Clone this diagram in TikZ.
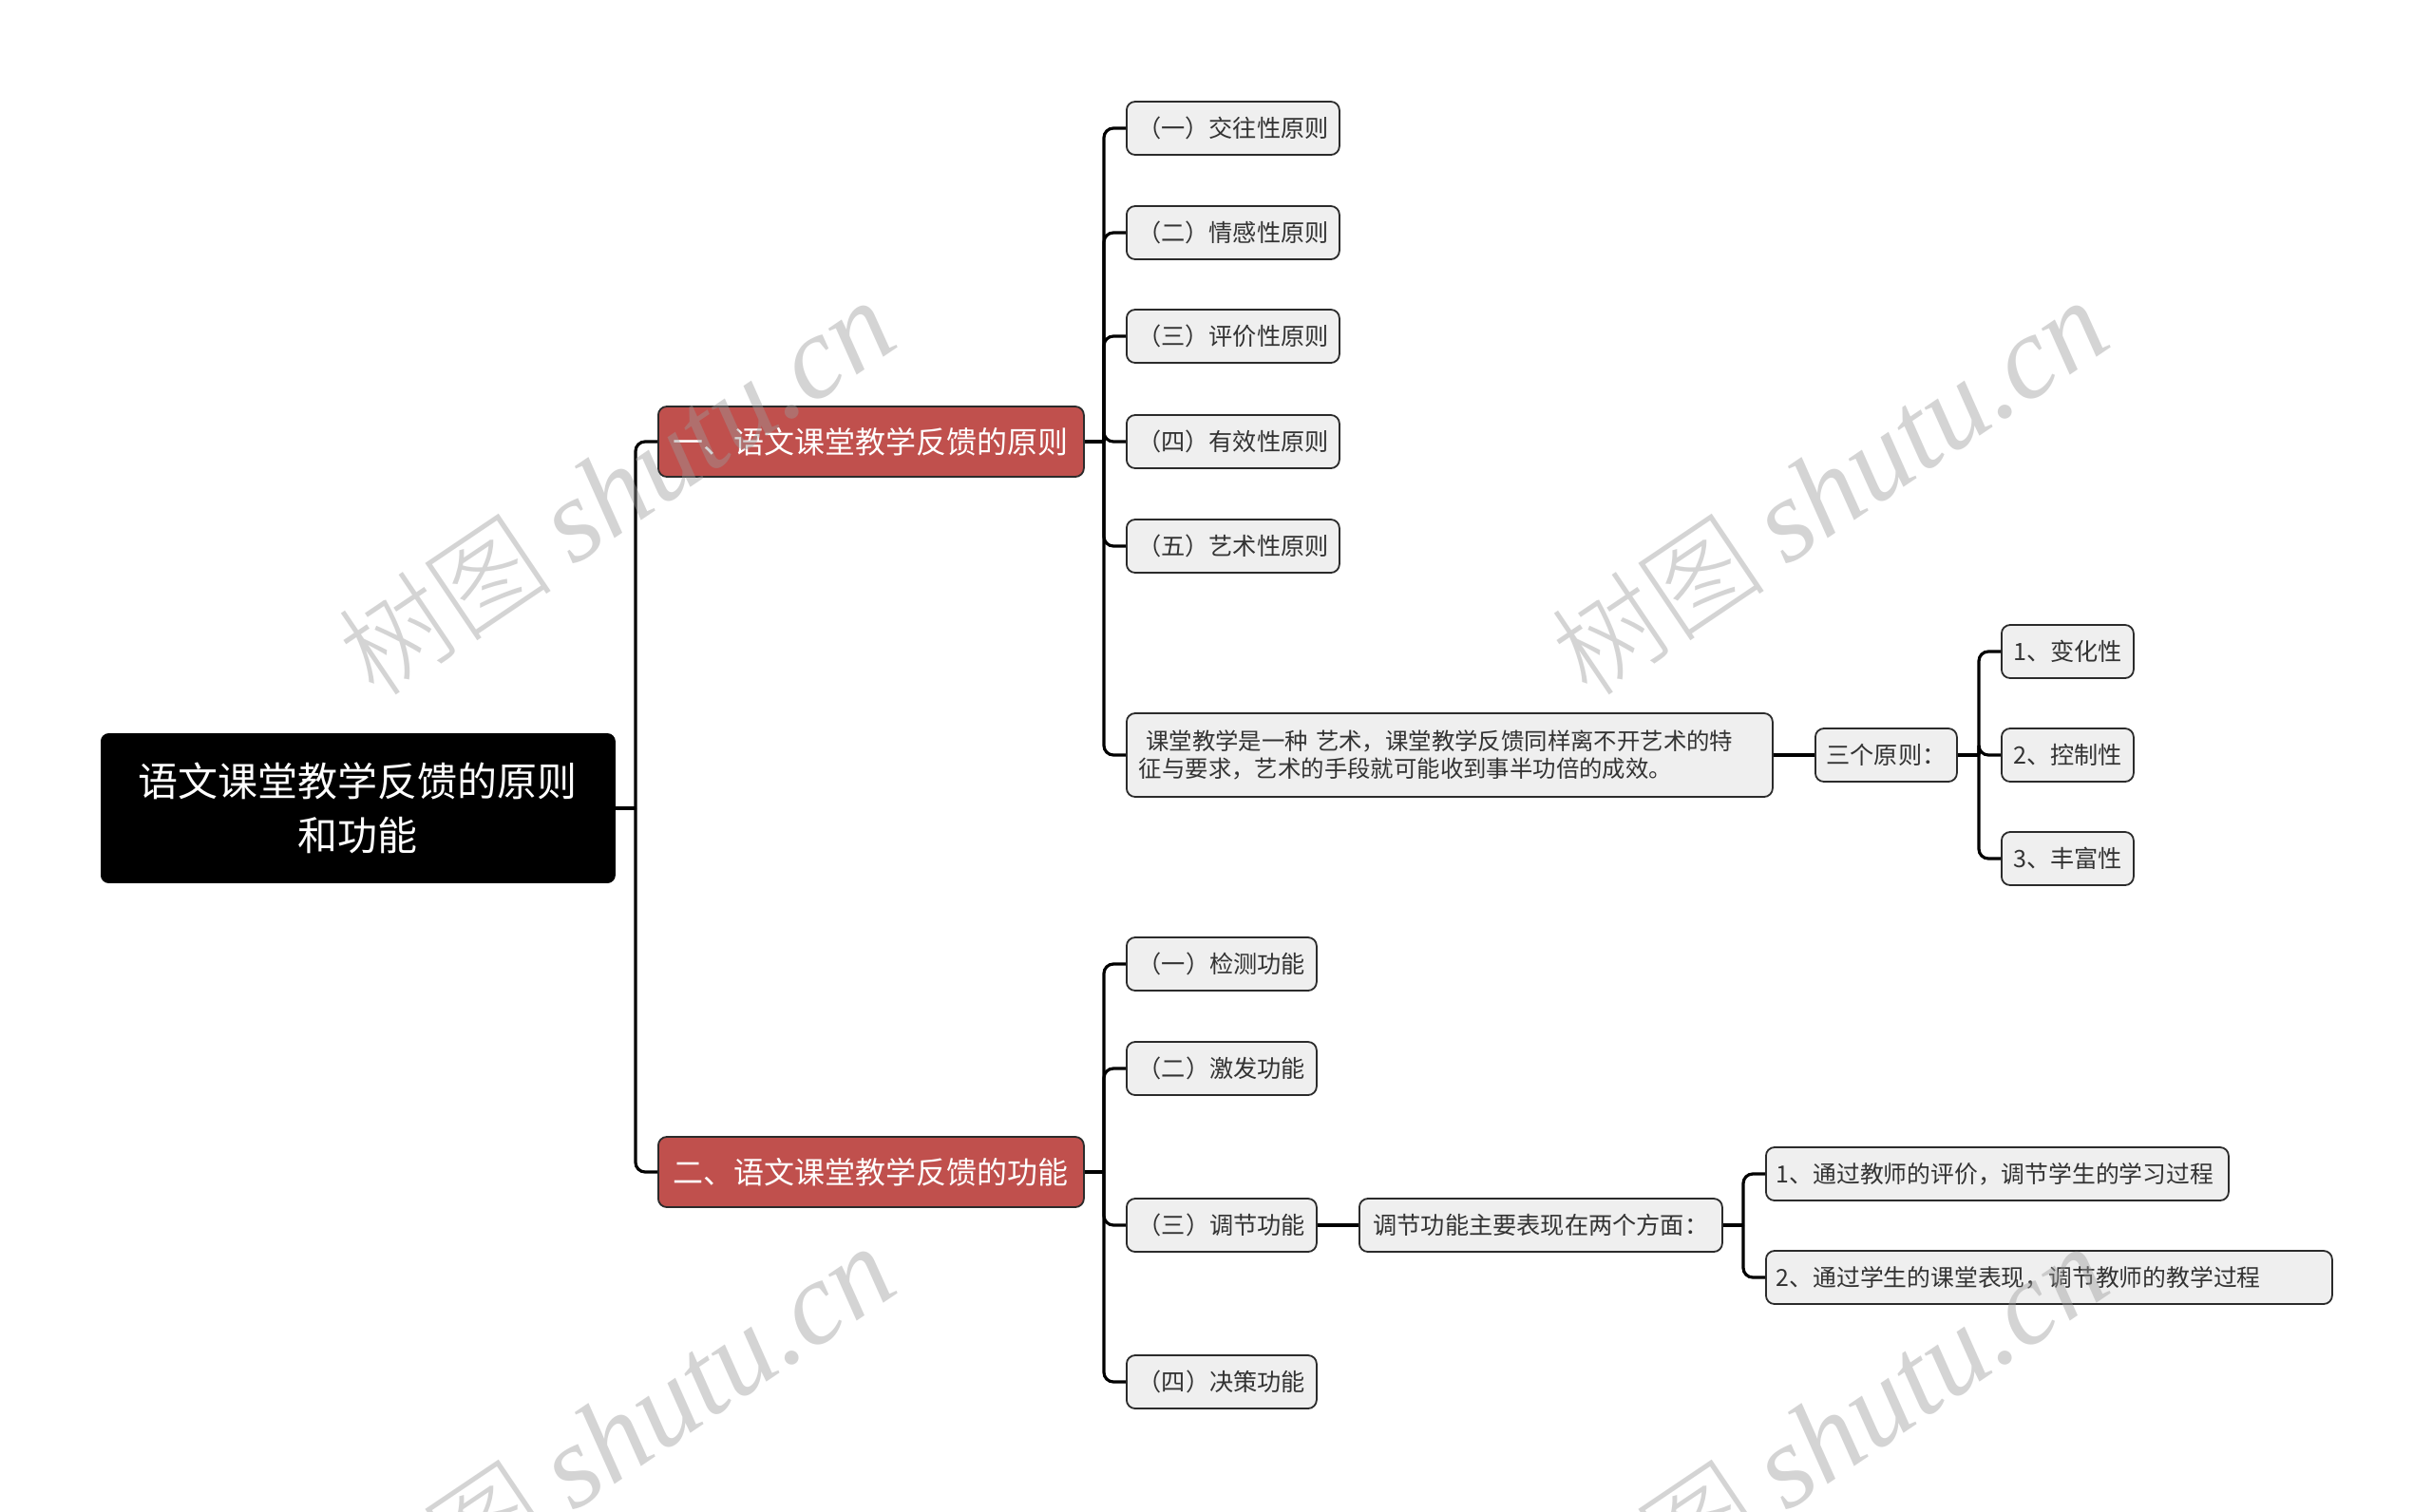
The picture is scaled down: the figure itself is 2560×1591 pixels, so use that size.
\documentclass[tikz,border=0pt]{standalone}
\usepackage{fontspec}
\setmainfont{Noto Sans CJK SC}
\newfontfamily\wmserif{Liberation Serif}
\newfontfamily\wmcjk{Noto Sans CJK SC Light}
\definecolor{leaffill}{HTML}{EFEFEF}
\definecolor{boxline}{HTML}{2B2B2B}
\definecolor{branchred}{HTML}{C0504D}
\definecolor{leaftext}{HTML}{333333}
\definecolor{wmgray}{HTML}{9A9A9A}
\begin{document}
\begin{tikzpicture}[x=0.5pt,y=-0.5pt,
  conn/.style={draw=black,line width=1.6pt,rounded corners=5pt},
  rootbox/.style={fill=black,draw=black,rounded corners=4pt,text=white,
    font=\fontsize{21pt}{28.5pt}\selectfont,align=center,inner sep=0pt,anchor=west},
  branchbox/.style={fill=branchred,draw=boxline,line width=0.9pt,rounded corners=4.5pt,text=white,
    font=\fontsize{16pt}{20pt}\selectfont,inner sep=0pt,anchor=west},
  leafbox/.style={fill=leaffill,draw=boxline,line width=0.9pt,rounded corners=4.5pt,text=leaftext,
    font=\fontsize{12.6pt}{16pt}\selectfont,inner sep=0pt,anchor=west,minimum height=28pt},
  leftbox/.style={leafbox,inner xsep=6.5pt,align=left},
  wmark/.style={rotate=34,text=wmgray,opacity=0.42}
]
\fill[white] (0,0) rectangle (2560,1591);
\useasboundingbox (0,0) rectangle (2560,1591);

% root and branches
\node[rootbox,minimum width=270.5pt,minimum height=78.5pt] (root) at (106,851) {语文课堂教学反馈的原则\\和功能};
\node[branchbox,minimum width=224pt,minimum height=37pt] (b1) at (692,465) {一、语文课堂教学反馈的原则};
\node[branchbox,minimum width=224pt,minimum height=37pt] (b2) at (692,1234) {二、语文课堂教学反馈的功能};

% principles
\node[leafbox,minimum width=112pt] (c1) at (1185,135) {（一）交往性原则};
\node[leafbox,minimum width=112pt] (c2) at (1185,245) {（二）情感性原则};
\node[leafbox,minimum width=112pt] (c3) at (1185,354) {（三）评价性原则};
\node[leafbox,minimum width=112pt] (c4) at (1185,465) {（四）有效性原则};
\node[leafbox,minimum width=112pt] (c5) at (1185,575) {（五）艺术性原则};
\node[leftbox,text width=327pt,minimum height=44pt,font=\fontsize{12.2pt}{14.7pt}\selectfont] (c6) at (1185,795) {\hspace{0.3em}课堂教学是一种\ 艺术，课堂教学反馈同样离不开艺术的特\\征与要求，艺术的手段就可能收到事半功倍的成效。};
\node[leafbox,minimum width=74.5pt] (sg) at (1910,795) {三个原则：};
\node[leafbox,minimum width=69.5pt] (s1) at (2106,686) {1、变化性};
\node[leafbox,minimum width=69.5pt] (s2) at (2106,795) {2、控制性};
\node[leafbox,minimum width=69.5pt] (s3) at (2106,904) {3、丰富性};

% functions
\node[leafbox,minimum width=100pt] (f1) at (1185,1015) {（一）检测功能};
\node[leafbox,minimum width=100pt] (f2) at (1185,1125) {（二）激发功能};
\node[leafbox,minimum width=100pt] (f3) at (1185,1290) {（三）调节功能};
\node[leafbox,minimum width=100pt] (f4) at (1185,1455) {（四）决策功能};
\node[leafbox,minimum width=191pt] (tj) at (1430,1290) {调节功能主要表现在两个方面：};
\node[leftbox,inner xsep=5.5pt,text width=232.5pt,font=\fontsize{12.4pt}{16pt}\selectfont] (t1) at (1858,1236) {1、通过教师的评价，调节学生的学习过程};
\node[leftbox,inner xsep=5.5pt,text width=287pt,font=\fontsize{12.4pt}{16pt}\selectfont] (t2) at (1858,1345) {2、通过学生的课堂表现，调节教师的教学过程};

% junctions
\coordinate (j0) at (669,851);
\coordinate (j1) at (1162,465);
\coordinate (j2) at (1162,1234);
\coordinate (j3) at (2083,795);
\coordinate (j4) at (1835,1290);

% connectors
\draw[conn] (root.east) -- (j0);
\draw[conn] (j0) |- (b1.west);
\draw[conn] (j0) |- (b2.west);
\draw[conn] (b1.east) -- (j1);
\foreach \c in {c1,c2,c3,c4,c5,c6} \draw[conn] (j1) |- (\c.west);
\draw[conn] (c6.east) -- (sg.west);
\draw[conn] (sg.east) -- (j3);
\foreach \c in {s1,s2,s3} \draw[conn] (j3) |- (\c.west);
\draw[conn] (b2.east) -- (j2);
\foreach \c in {f1,f2,f3,f4} \draw[conn] (j2) |- (\c.west);
\draw[conn] (f3.east) -- (tj.west);
\draw[conn] (tj.east) -- (j4);
\foreach \c in {t1,t2} \draw[conn] (j4) |- (\c.west);

% watermarks
\newcommand{\wmtext}{{\wmcjk\fontsize{57pt}{57pt}\selectfont 树图}\hspace{12pt}{\wmserif\itshape\fontsize{62pt}{62pt}\selectfont shutu.cn}}
\node[wmark] (w1) at (648,514) {\wmtext};
\node[wmark] (w2) at (1925,514) {\wmtext};
\node[wmark] (w3) at (648,1510) {\wmtext};
\node[wmark] (w4) at (1925,1510) {\wmtext};
\end{tikzpicture}
\end{document}
